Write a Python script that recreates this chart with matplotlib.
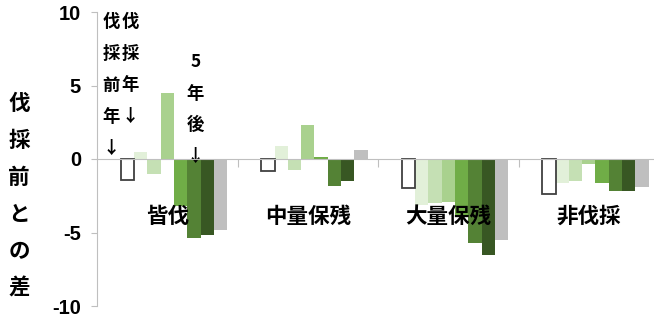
import numpy as np
import matplotlib.pyplot as plt

plt.rcParams['font.family'] = ['Noto Sans CJK JP', 'DejaVu Sans']

groups = ['皆伐', '中量保残', '大量保残', '非伐採']

# 伐採前年, 伐採年, 1〜6年後, 最後の灰色
kaibatsu = [0, -1.4, 0.5, -1.0, 4.5, -3.2, -5.4, -5.2, -4.8]
chuuryou = [0, -0.85, 0.9, -0.75, 2.3, 0.15, -1.85, -1.5, 0.6]
tairyou = [0, -2.0, -3.1, -3.0, -2.95, -3.8, -5.7, -6.5, -5.5]
hibatsu = [0, -2.35, -1.65, -1.5, -0.33, -1.65, -2.2, -2.2, -1.93]

yticks = [-10, -5, 0, 5, 10]
ytick_labels = ['-10', '-5', '0', '5', '10']

colors = ['none', 'white', '#e2f0d9', '#c5e0b4', '#a9d18e',
          '#70ad47', '#548235', '#385723', '#bfbfbf']

data = np.array([kaibatsu, chuuryou, tairyou, hibatsu])
n_slots = data.shape[1]
w = 0.0947
x = np.arange(len(groups))

fig = plt.figure(figsize=(6.54, 3.33), dpi=100)
ax = fig.add_axes([97/654, 27/333, 557/654, 294/333])

for k in range(n_slots):
    pos = x + (k - (n_slots - 1) / 2) * w
    if k == 0:
        ax.bar(pos, data[:, k], w, color='none', edgecolor='none')
    elif k == 1:
        ax.bar(pos, data[:, k], w, color='white', edgecolor='#404040', linewidth=1.3, zorder=3)
    else:
        ax.bar(pos, data[:, k], w, color=colors[k], edgecolor='none', zorder=2)

ax.set_xlim(-0.5, 3.464)
ax.set_ylim(-10, 10)

ax.spines['top'].set_visible(False)
ax.spines['right'].set_visible(False)
ax.spines['bottom'].set_position(('data', 0))
ax.spines['bottom'].set_color('#bfbfbf')
ax.spines['left'].set_color('#bfbfbf')
ax.spines['bottom'].set_zorder(4)

ax.set_xticks([0.5, 1.5, 2.5])
ax.set_xticklabels([])
ax.tick_params(axis='x', direction='out', length=6, color='#bfbfbf')

ax.set_yticks(yticks)
ax.set_yticklabels(ytick_labels, fontfamily='Liberation Sans', fontweight='bold', fontsize=14.5)
ax.tick_params(axis='y', direction='out', length=4.5, color='#bfbfbf', pad=7)

for i, g in enumerate(groups):
    ax.text(i, -3.9, g, ha='center', va='center', fontsize=15.5, fontweight='bold', zorder=5)


def vtext(xp, y0, s, dy=2.15, **kw):
    for i, ch in enumerate(s):
        ax.text(xp, y0 - i * dy, ch, ha='center', va='center', **kw)


vtext(-0.40, 9.3, '伐採前年↓', fontsize=12.5, fontweight='bold')
vtext(-0.265, 9.3, '伐採年↓', fontsize=12.5, fontweight='bold')
vtext(0.20, 6.6, '5年後↓', fontsize=12.5, fontweight='bold')

# 縦書きの軸ラベル
ylab = '伐採前との差'
for i, ch in enumerate(ylab):
    fig.text(19/654, 1 - (103 + i * 37) / 333, ch, ha='center', va='center',
             fontsize=15.5, fontweight='bold')

fig.savefig('out.png', dpi=100)
